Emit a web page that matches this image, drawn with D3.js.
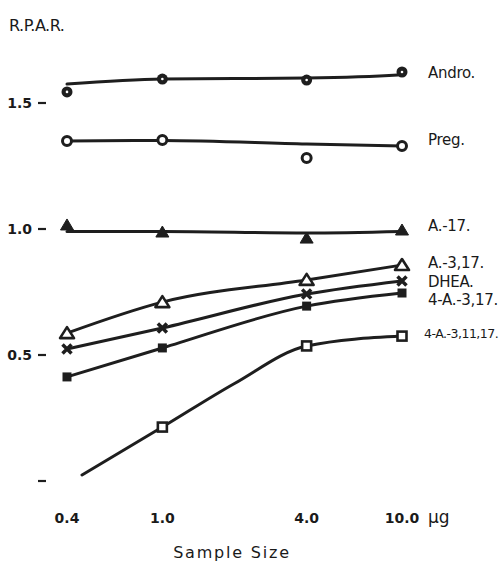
<!DOCTYPE html>
<html>
<head>
<meta charset="utf-8">
<script src="https://cdn.jsdelivr.net/npm/d3@7"></script>
<style>
  body { margin: 0; background: #fff; }
  text { font-family: "DejaVu Sans", sans-serif; fill: #1a1a1a; }
</style>
</head>
<body>
<div id="chart"></div>
<script>
// sample sizes (µg), log axis
const sizes = [0.4, 1.0, 4.0, 10.0];
const sizeLabels = ["0.4", "1.0", "4.0", "10.0"];
const yTicks = [0, 0.5, 1.0, 1.5];
const yTickLabels = ["", "0.5", "1.0", "1.5"];

const seriesNames = ["Andro.", "Preg.", "A.-17.", "A.-3,17.", "DHEA.", "4-A.-3,17.", "4-A.-3,11,17."];
const seriesMarks = ["dotcircle", "ring", "tri", "opentri", "cross", "square", "opensquare"];

// measured points (null = no point)
const andro = [1.544, 1.595, 1.591, 1.623];
const preg = [1.349, 1.353, 1.282, 1.329];
const a17 = [1.016, 0.988, 0.964, 0.996];
const a317 = [0.587, 0.710, 0.798, 0.857];
const dhea = [0.524, 0.607, 0.742, 0.794];
const a4317 = [0.413, 0.528, 0.694, 0.746];
const a431117 = [null, 0.214, 0.536, 0.575];

// hand drawn curves (x, y)
const androCurve = [[0.4, 1.575], [1.0, 1.595], [4.0, 1.599], [9.6, 1.611], [10.0, 1.623]];
const pregCurve = [[0.4, 1.349], [1.0, 1.351], [4.0, 1.337], [10.0, 1.329]];
const a17Curve = [[0.4, 0.99], [1.0, 0.99], [4.0, 0.984], [10.0, 0.99]];
const a317Curve = [[0.4, 0.587], [1.0, 0.710], [4.0, 0.798], [10.0, 0.857]];
const dheaCurve = [[0.4, 0.524], [1.0, 0.607], [4.0, 0.742], [10.0, 0.794]];
const a4317Curve = [[0.4, 0.413], [1.0, 0.528], [4.0, 0.694], [10.0, 0.746]];
const a431117Curve = [[0.462, 0.024], [1.0, 0.214], [2.0, 0.387], [4.0, 0.536], [10.0, 0.575]];

const seriesPoints = [andro, preg, a17, a317, dhea, a4317, a431117];
const seriesCurves = [androCurve, pregCurve, a17Curve, a317Curve, dheaCurve, a4317Curve, a431117Curve];
// label vertical anchor values
const labelValues = [1.62, 1.355, 1.012, 0.865, 0.79, 0.72, 0.585];

const width = 503, height = 561;
const ink = "#1e1e1e";

const svg = d3.select("#chart").append("svg")
    .attr("width", width)
    .attr("height", height);

const x = d3.scaleLog().domain([0.4, 10]).range([67, 402]);
const y = d3.scaleLinear().domain([0, 1.5]).range([481, 103]);

// y axis: just dashes + labels, no axis line
const yAxis = svg.append("g");
yTicks.forEach((t, i) => {
    yAxis.append("line")
        .attr("x1", 38).attr("x2", 46)
        .attr("y1", y(t)).attr("y2", y(t))
        .attr("stroke", ink).attr("stroke-width", 2.2);
    if (yTickLabels[i]) {
        yAxis.append("text")
            .attr("x", 32).attr("y", y(t))
            .attr("dy", "0.38em")
            .attr("text-anchor", "end")
            .attr("font-size", 14)
            .attr("font-weight", "bold")
            .text(yTickLabels[i]);
    }
});

svg.append("text")
    .attr("x", 9).attr("y", 31)
    .attr("font-size", 16)
    .attr("letter-spacing", -0.5)
    .text("R.P.A.R.");

// x tick labels
svg.append("g").selectAll("text")
    .data(sizes)
    .join("text")
    .attr("x", d => x(d))
    .attr("y", 523)
    .attr("text-anchor", "middle")
    .attr("font-size", 14)
    .attr("font-weight", "bold")
    .text((d, i) => sizeLabels[i]);

svg.append("text")
    .attr("x", 428).attr("y", 523)
    .attr("font-size", 17)
    .text("µg");

svg.append("text")
    .attr("x", 232).attr("y", 558)
    .attr("text-anchor", "middle")
    .attr("font-size", 16)
    .attr("letter-spacing", 1.8)
    .text("Sample Size");

const line = d3.line()
    .x(d => x(d[0]))
    .y(d => y(d[1]))
    .curve(d3.curveMonotoneX);

svg.append("g").selectAll("path")
    .data(seriesCurves)
    .join("path")
    .attr("d", line)
    .attr("fill", "none")
    .attr("stroke", ink)
    .attr("stroke-width", 3)
    .attr("stroke-linecap", "round");

function drawMark(g, type) {
    if (type === "dotcircle") {
        g.append("circle").attr("r", 5.5).attr("fill", ink);
        g.append("circle").attr("r", 1.3).attr("fill", "#fff");
    } else if (type === "ring") {
        g.append("circle").attr("r", 4.5).attr("fill", "#fff")
            .attr("stroke", ink).attr("stroke-width", 3);
    } else if (type === "tri") {
        g.append("path").attr("d", "M0,-6L6.5,5L-6.5,5Z").attr("fill", ink)
            .attr("stroke", ink).attr("stroke-width", 1);
    } else if (type === "opentri") {
        g.append("path").attr("d", "M0,-6L7,5L-7,5Z").attr("fill", "#fff")
            .attr("stroke", ink).attr("stroke-width", 2.6).attr("stroke-linejoin", "round");
    } else if (type === "cross") {
        g.append("path").attr("d", "M-4.5,-4.5L4.5,4.5M4.5,-4.5L-4.5,4.5")
            .attr("stroke", ink).attr("stroke-width", 3.5);
    } else if (type === "square") {
        g.append("rect").attr("x", -4.5).attr("y", -4.5).attr("width", 9).attr("height", 9)
            .attr("fill", ink);
    } else if (type === "opensquare") {
        g.append("rect").attr("x", -4.5).attr("y", -4.5).attr("width", 9).attr("height", 9)
            .attr("fill", "#fff").attr("stroke", ink).attr("stroke-width", 2.6);
    }
}

const marks = svg.append("g");
seriesPoints.forEach((vals, si) => {
    vals.forEach((v, i) => {
        if (v === null) return;
        const g = marks.append("g")
            .attr("transform", `translate(${x(sizes[i])},${y(v)})`);
        drawMark(g, seriesMarks[si]);
    });
});

// the last label is long, set it a little smaller so it stays on the page
svg.append("g").selectAll("text")
    .data(seriesNames)
    .join("text")
    .attr("x", (d, i) => i === 6 ? 424 : 428)
    .attr("y", (d, i) => y(labelValues[i]))
    .attr("dy", "0.36em")
    .attr("font-size", (d, i) => i === 6 ? 12.5 : 15)
    .attr("letter-spacing", (d, i) => i === 6 ? -0.5 : -0.3)
    .text(d => d);
</script>
</body>
</html>
